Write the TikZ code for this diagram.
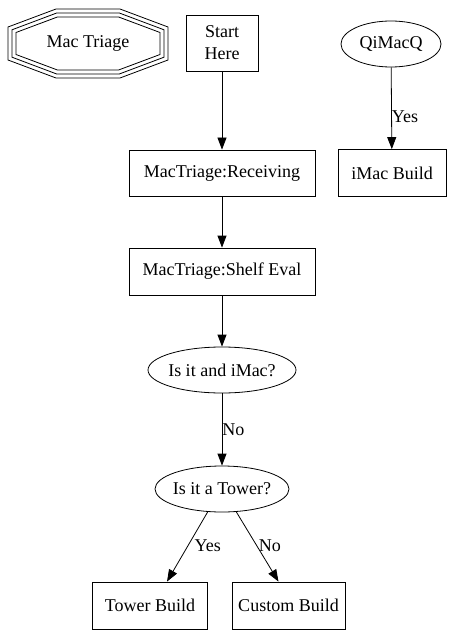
\documentclass[tikz,border=0pt]{standalone}
\usepackage{fontspec}
\setmainfont{Liberation Serif}
\usetikzlibrary{shapes.geometric,arrows.meta}
\begin{document}
\begin{tikzpicture}[x=1pt,y=-1pt,
  font=\fontsize{18}{21}\selectfont,
  line width=0.8pt,
  box/.style={draw, rectangle, inner sep=0pt},
  oval/.style={draw, ellipse, inner sep=0pt},
  edge/.style={-{Triangle[length=12pt,width=9pt]}},
  elabel/.style={inner sep=0pt}]
\useasboundingbox (0,0) rectangle (452,636);

% Mac Triage triple octagon
\node (mt) at (88,43.5) {Mac Triage};
\draw (56,9) -- (120,9) -- (168,27) -- (168,60) -- (120,78) -- (56,78) -- (8,60) -- (8,27) -- cycle;
\draw (56.7,13) -- (119.3,13) -- (164,29.8) -- (164,57.2) -- (119.3,74) -- (56.7,74) -- (12,57.2) -- (12,29.8) -- cycle;
\draw (57.4,17) -- (118.6,17) -- (160,32.5) -- (160,54.5) -- (118.6,70) -- (57.4,70) -- (16,54.5) -- (16,32.5) -- cycle;

\node[box, minimum width=72pt, minimum height=56pt, align=center] (start) at (222,43) {Start\\[1pt]Here};
\node[oval, minimum width=100pt, minimum height=46pt] (q) at (391,44) {\makebox[0pt]{QiMacQ}};
\node[box, minimum width=108pt, minimum height=47pt] (imac) at (392,173) {iMac Build};
\node[box, minimum width=186pt, minimum height=46pt] (recv) at (222,173) {MacTriage:Receiving};
\node[box, minimum width=186pt, minimum height=47pt] (shelf) at (222,271.5) {MacTriage:Shelf Eval};
\node[oval, minimum width=148pt, minimum height=46pt] (isimac) at (222,370) {\makebox[0pt]{Is it and iMac?}};
\node[oval, minimum width=134pt, minimum height=46pt] (tw) at (222,489) {\makebox[0pt]{Is it a Tower?}};
\node[box, minimum width=115pt, minimum height=47pt] (tb) at (150,605.5) {Tower Build};
\node[box, minimum width=113pt, minimum height=47pt] (cb) at (288.5,605.5) {Custom Build};

\draw[edge] (start) -- (recv);
\draw[edge] (recv) -- (shelf);
\draw[edge] (shelf) -- (isimac);
\draw[edge] (isimac) -- node[elabel, anchor=west, pos=0.5] {No} (tw);
\draw[edge] (q) -- node[elabel, anchor=west, pos=0.6] {Yes} (imac);
\draw[edge] (tw.238) -- node[elabel, pos=0.48, anchor=west, xshift=6pt] {Yes} ([xshift=17pt]tb.north);
\draw[edge] (tw.302) -- node[elabel, pos=0.48, anchor=west, xshift=2pt] {No} ([xshift=-10pt]cb.north);
\end{tikzpicture}
\end{document}
